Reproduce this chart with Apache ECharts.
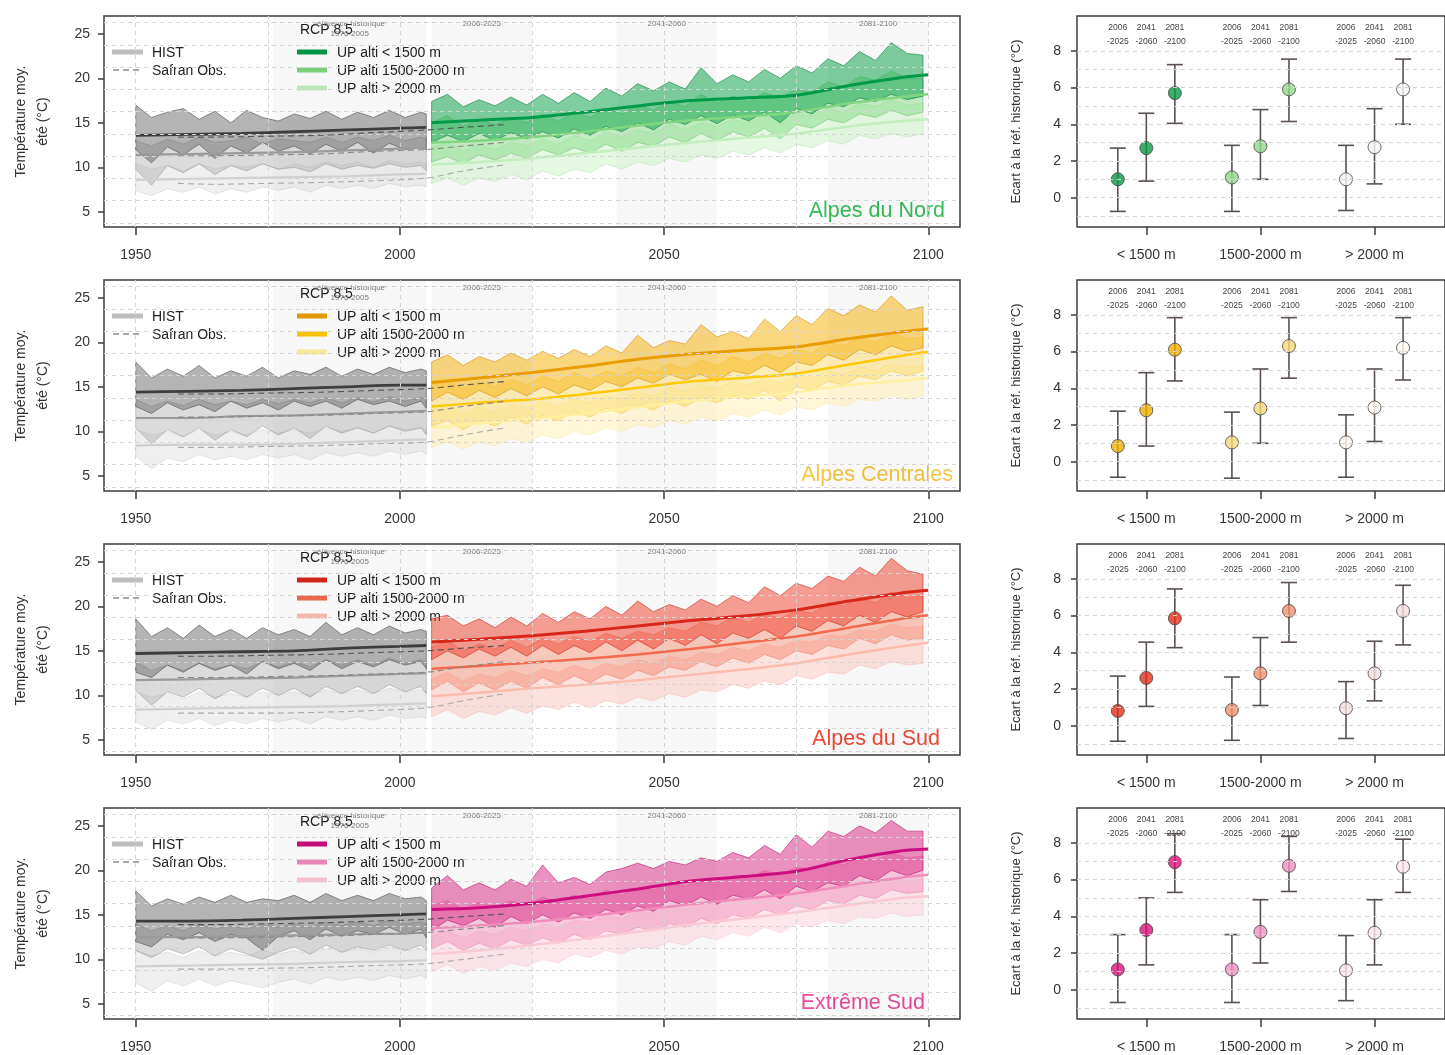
<!DOCTYPE html>
<html>
<head>
<meta charset="utf-8">
<title>Température moyenne été - Alpes</title>
<script src="https://cdn.jsdelivr.net/npm/echarts@6/dist/echarts.min.js"></script>
<style>
  html, body { margin: 0; padding: 0; background: #fff; overflow: hidden; }
  #chart { width: 1445px; height: 1055px; }
</style>
</head>
<body>
<div id="chart"></div>
<script>
// years
const histYears = [1950, 1953, 1956, 1959, 1962, 1965, 1968, 1971, 1974, 1977, 1980, 1983, 1986, 1989, 1992, 1995, 1998, 2001, 2004, 2005]
const rcpYears = [2006, 2009, 2012, 2015, 2018, 2021, 2024, 2027, 2030, 2033, 2036, 2039, 2042, 2045, 2048, 2051, 2054, 2057, 2060, 2063, 2066, 2069, 2072, 2075, 2078, 2081, 2084, 2087, 2090, 2093, 2096, 2099]
const histMedYears = [1950, 1960, 1970, 1980, 1990, 2000, 2005]
const rcpMedYears = [2006, 2015, 2025, 2035, 2045, 2055, 2065, 2075, 2085, 2095, 2100]
const safranYears = [1958, 1965, 1975, 1985, 1995, 2005, 2012, 2020]

// A = UP alti < 1500 m, B = 1500-2000 m, C = > 2000 m
// Alpes du Nord
const nordHistAHi = [17.0, 15.6, 16.2, 16.6, 15.4, 16.3, 15.0, 16.4, 15.6, 15.2, 16.0, 15.5, 16.3, 15.4, 16.2, 15.6, 16.4, 15.6, 16.2, 16.0]
const nordHistALo = [12.0, 10.5, 12.3, 11.4, 12.6, 11.0, 12.4, 11.6, 12.8, 11.8, 12.4, 11.5, 12.6, 11.8, 12.8, 11.6, 12.7, 12.0, 12.2, 12.0]
const nordHistAMed = [13.6, 13.7, 13.8, 14.0, 14.2, 14.4, 14.5]
const nordHistBHi = [13.0, 12.4, 13.2, 12.6, 13.4, 12.8, 13.0, 13.4, 12.6, 13.2, 13.0, 12.8, 13.4, 12.8, 13.4, 13.0, 13.6, 13.0, 13.4, 13.2]
const nordHistBLo = [9.8, 8.0, 10.2, 9.4, 10.4, 9.2, 10.2, 9.6, 10.4, 9.8, 10.0, 9.5, 10.4, 9.8, 10.2, 9.9, 10.4, 10.0, 10.2, 9.6]
const nordHistBMed = [11.4, 11.5, 11.6, 11.7, 11.9, 12.1, 12.2]
const nordHistCHi = [10.4, 9.8, 10.2, 9.6, 10.4, 9.8, 10.2, 10.0, 10.4, 9.8, 10.4, 10.0, 10.6, 10.2, 10.6, 10.0, 10.8, 10.4, 10.6, 10.4]
const nordHistCLo = [7.4, 6.8, 7.6, 7.2, 7.8, 7.0, 7.6, 7.2, 7.8, 7.4, 7.8, 7.2, 8.0, 7.6, 8.0, 7.6, 8.2, 7.8, 8.0, 7.8]
const nordHistCMed = [8.6, 8.7, 8.8, 8.9, 9.0, 9.2, 9.3]
const nordSafranA = [13.4, 13.4, 13.5, 13.6, 13.9, 14.2, 14.5, 14.8]
const nordSafranB = [11.3, 11.3, 11.4, 11.5, 11.8, 12.0, 12.4, 12.8]
const nordSafranC = [8.2, 8.1, 8.2, 8.3, 8.5, 8.8, 9.6, 10.3]
const nordRcpAHi = [17.4, 18.2, 16.8, 17.6, 16.9, 17.9, 17.0, 18.2, 17.2, 18.4, 17.4, 18.9, 18.0, 19.4, 18.6, 19.6, 18.8, 21.2, 19.4, 20.4, 19.6, 21.0, 20.0, 21.4, 20.6, 22.2, 21.4, 23.0, 22.0, 24.0, 22.8, 22.6]
const nordRcpALo = [12.8, 13.6, 12.9, 13.8, 13.0, 13.9, 13.2, 14.0, 13.3, 14.3, 13.6, 14.6, 14.0, 15.0, 14.2, 15.4, 14.8, 15.8, 14.9, 15.9, 15.2, 16.2, 15.0, 16.6, 16.0, 17.2, 16.8, 17.8, 17.4, 18.2, 17.6, 18.0]
const nordRcpAMed = [15.0, 15.3, 15.6, 16.2, 16.9, 17.5, 17.8, 18.1, 19.2, 20.1, 20.4]
const nordRcpBHi = [15.0, 15.8, 14.6, 15.4, 14.8, 15.6, 15.0, 16.0, 15.2, 16.2, 15.6, 16.6, 16.0, 17.0, 16.4, 17.4, 16.8, 18.2, 17.2, 18.0, 17.4, 18.4, 17.8, 18.8, 18.4, 19.6, 19.0, 20.2, 19.8, 20.8, 20.0, 20.0]
const nordRcpBLo = [10.6, 11.2, 10.4, 11.4, 10.8, 11.6, 11.0, 12.0, 11.4, 12.2, 11.6, 12.6, 11.8, 12.8, 12.4, 13.4, 12.8, 13.8, 13.0, 14.0, 13.4, 14.4, 13.2, 14.8, 14.4, 15.4, 15.0, 16.0, 15.6, 16.4, 15.8, 16.2]
const nordRcpBMed = [12.8, 13.0, 13.4, 14.0, 14.7, 15.3, 15.7, 16.2, 17.2, 17.9, 18.2]
const nordRcpCHi = [12.2, 12.8, 11.8, 12.6, 12.0, 12.8, 12.4, 13.2, 12.6, 13.6, 13.0, 14.0, 13.4, 14.2, 13.8, 14.8, 14.2, 15.0, 14.6, 15.4, 15.0, 15.8, 15.2, 16.0, 15.8, 16.6, 16.2, 17.2, 16.8, 17.6, 17.0, 17.2]
const nordRcpCLo = [8.2, 8.8, 8.0, 8.8, 8.4, 9.2, 8.6, 9.6, 9.0, 9.8, 9.4, 10.4, 9.8, 10.6, 10.2, 11.0, 10.6, 11.4, 11.0, 11.8, 11.4, 12.2, 11.6, 12.6, 12.2, 13.0, 12.6, 13.6, 13.2, 13.8, 13.4, 13.8]
const nordRcpCMed = [10.3, 10.6, 11.0, 11.6, 12.2, 12.8, 13.3, 13.8, 14.6, 15.2, 15.4]

// Alpes Centrales
const centHistAHi = [17.8, 16.0, 17.0, 16.2, 17.4, 16.0, 16.8, 16.2, 17.2, 16.0, 16.8, 16.4, 17.2, 16.2, 17.0, 16.4, 17.2, 16.6, 17.0, 16.8]
const centHistALo = [12.8, 12.0, 13.2, 12.4, 13.0, 12.2, 13.4, 12.6, 13.2, 12.4, 13.4, 12.8, 13.4, 12.6, 13.6, 13.0, 13.4, 12.8, 13.4, 12.6]
const centHistAMed = [14.4, 14.5, 14.6, 14.8, 15.0, 15.2, 15.2]
const centHistBHi = [13.6, 12.8, 13.4, 12.9, 13.6, 13.0, 13.4, 13.0, 13.6, 13.1, 13.6, 13.2, 13.8, 13.2, 13.8, 13.3, 13.9, 13.4, 13.8, 13.6]
const centHistBLo = [10.4, 8.6, 10.2, 9.4, 10.4, 9.0, 10.2, 9.4, 10.6, 9.6, 10.4, 9.2, 10.6, 9.8, 10.4, 9.8, 10.6, 10.0, 10.4, 9.6]
const centHistBMed = [11.5, 11.5, 11.7, 11.8, 12.0, 12.2, 12.3]
const centHistCHi = [10.2, 9.6, 10.0, 9.4, 10.2, 9.6, 10.0, 9.6, 10.2, 9.8, 10.2, 9.8, 10.4, 10.0, 10.4, 9.8, 10.6, 10.2, 10.4, 10.2]
const centHistCLo = [7.2, 5.8, 7.0, 6.6, 7.4, 6.8, 7.2, 6.8, 7.4, 7.0, 7.4, 6.8, 7.6, 7.2, 7.6, 7.2, 7.8, 7.4, 7.8, 7.4]
const centHistCMed = [8.4, 8.5, 8.5, 8.6, 8.8, 9.0, 9.1]
const centSafranA = [14.2, 14.2, 14.3, 14.4, 14.6, 14.8, 15.2, 15.6]
const centSafranB = [11.6, 11.6, 11.7, 11.8, 12.0, 12.2, 12.8, 13.4]
const centSafranC = [8.2, 8.2, 8.3, 8.4, 8.6, 8.8, 9.6, 10.4]
const centRcpAHi = [17.8, 18.6, 17.4, 18.4, 17.8, 18.8, 18.0, 19.0, 18.2, 19.2, 18.4, 19.6, 18.8, 20.8, 19.4, 20.2, 19.8, 22.0, 20.6, 21.2, 20.4, 22.6, 21.2, 23.0, 22.0, 23.8, 23.0, 24.2, 23.4, 25.2, 23.6, 24.0]
const centRcpALo = [13.4, 14.4, 13.6, 14.6, 13.8, 14.8, 14.0, 15.0, 14.2, 15.2, 14.6, 15.6, 15.0, 16.0, 15.4, 16.4, 15.8, 16.4, 15.6, 16.8, 16.4, 17.4, 16.6, 17.8, 17.4, 18.6, 18.0, 19.2, 18.6, 19.6, 19.0, 19.4]
const centRcpAMed = [15.5, 16.0, 16.6, 17.3, 18.1, 18.7, 19.1, 19.5, 20.4, 21.2, 21.5]
const centRcpBHi = [15.2, 15.8, 14.8, 15.6, 15.0, 15.8, 15.2, 16.2, 15.6, 16.6, 15.8, 16.8, 16.2, 17.2, 16.6, 17.6, 17.0, 18.0, 17.4, 18.4, 17.8, 18.8, 18.2, 19.2, 18.8, 20.0, 19.6, 20.6, 20.0, 21.0, 20.4, 20.6]
const centRcpBLo = [10.6, 11.2, 10.2, 11.2, 10.6, 11.6, 10.8, 11.8, 11.2, 12.2, 11.6, 12.6, 12.0, 13.0, 12.4, 13.4, 12.8, 13.8, 13.2, 14.0, 13.6, 14.6, 13.4, 15.0, 14.6, 15.6, 15.2, 16.2, 15.8, 16.8, 16.2, 16.8]
const centRcpBMed = [12.8, 13.2, 13.6, 14.2, 14.9, 15.6, 16.0, 16.5, 17.5, 18.5, 18.9]
const centRcpCHi = [12.4, 13.0, 12.0, 12.8, 12.2, 13.0, 12.6, 13.4, 12.8, 13.6, 13.2, 14.0, 13.6, 14.4, 14.0, 15.0, 14.4, 15.2, 14.8, 15.6, 15.2, 16.0, 15.4, 16.2, 16.0, 16.8, 16.4, 17.2, 16.8, 17.6, 17.2, 17.4]
const centRcpCLo = [8.2, 8.8, 8.0, 8.8, 8.4, 9.2, 8.8, 9.6, 9.2, 10.0, 9.6, 10.4, 10.0, 10.8, 10.4, 11.2, 10.8, 11.6, 11.2, 12.0, 11.6, 12.4, 11.8, 12.8, 12.4, 13.2, 12.8, 13.6, 13.4, 14.0, 13.6, 14.0]
const centRcpCMed = [10.4, 10.9, 11.4, 12.0, 12.7, 13.4, 13.9, 14.4, 15.2, 15.7, 16.0]

// Alpes du Sud
const sudHistAHi = [18.6, 16.6, 17.6, 16.4, 17.9, 16.6, 17.4, 16.4, 17.6, 16.8, 17.4, 16.6, 18.2, 16.8, 17.6, 16.8, 17.8, 17.0, 17.4, 17.2]
const sudHistALo = [12.6, 12.0, 13.4, 12.6, 13.6, 12.8, 13.4, 12.4, 13.8, 13.0, 13.6, 12.8, 14.0, 13.0, 13.8, 13.2, 14.0, 13.4, 13.8, 13.0]
const sudHistAMed = [14.7, 14.8, 14.9, 15.0, 15.3, 15.5, 15.6]
const sudHistBHi = [13.8, 12.8, 13.4, 12.8, 13.6, 13.0, 13.4, 13.0, 13.8, 13.2, 13.8, 13.2, 14.0, 13.4, 14.0, 13.4, 14.2, 13.6, 14.0, 13.8]
const sudHistBLo = [10.6, 8.9, 10.4, 9.8, 10.8, 9.6, 10.6, 9.8, 10.8, 10.0, 10.8, 9.8, 11.0, 10.2, 11.0, 10.2, 11.2, 10.4, 11.0, 10.2]
const sudHistBMed = [11.7, 11.8, 11.9, 12.0, 12.2, 12.4, 12.5]
const sudHistCHi = [10.4, 9.8, 10.2, 9.6, 10.4, 9.8, 10.2, 9.8, 10.4, 10.0, 10.4, 10.0, 10.6, 10.2, 10.6, 10.2, 10.8, 10.4, 10.6, 10.4]
const sudHistCLo = [7.0, 6.2, 7.2, 6.8, 7.4, 6.6, 7.2, 6.8, 7.4, 7.0, 7.4, 6.8, 7.6, 7.2, 7.6, 7.2, 7.8, 7.4, 7.6, 7.4]
const sudHistCMed = [8.4, 8.5, 8.6, 8.7, 8.8, 9.0, 9.1]
const sudSafranA = [14.4, 14.4, 14.5, 14.6, 14.8, 15.0, 15.3, 15.6]
const sudSafranB = [12.0, 12.0, 12.1, 12.2, 12.4, 12.6, 13.2, 13.8]
const sudSafranC = [8.0, 8.0, 8.0, 8.1, 8.3, 8.6, 9.4, 10.2]
const sudRcpAHi = [18.6, 19.0, 17.8, 18.6, 17.6, 18.8, 17.8, 19.2, 18.2, 19.4, 18.6, 20.0, 19.0, 20.6, 19.4, 20.2, 19.6, 20.8, 20.0, 21.2, 20.4, 22.2, 21.2, 22.6, 22.0, 23.4, 22.8, 24.4, 23.4, 25.4, 24.0, 23.6]
const sudRcpALo = [14.0, 15.0, 14.2, 15.2, 14.4, 15.4, 14.4, 15.6, 14.6, 15.6, 14.8, 16.0, 15.0, 16.2, 15.2, 16.4, 15.6, 16.8, 15.8, 17.0, 16.4, 17.4, 16.4, 17.8, 17.2, 18.4, 17.8, 19.0, 18.2, 19.4, 18.8, 19.4]
const sudRcpAMed = [16.0, 16.3, 16.7, 17.2, 17.8, 18.4, 18.9, 19.6, 20.6, 21.5, 21.8]
const sudRcpBHi = [15.4, 16.2, 15.0, 15.8, 15.2, 16.2, 15.4, 16.4, 15.8, 16.6, 16.0, 17.0, 16.4, 17.2, 16.8, 17.6, 17.2, 18.2, 17.8, 18.8, 18.2, 19.2, 18.6, 19.6, 19.2, 20.4, 20.0, 21.0, 20.4, 21.6, 21.0, 21.2]
const sudRcpBLo = [10.6, 11.6, 10.4, 11.4, 10.6, 11.6, 10.8, 12.0, 11.2, 12.2, 11.4, 12.4, 11.8, 12.8, 12.2, 13.2, 12.8, 13.8, 13.2, 14.2, 13.6, 14.6, 14.0, 15.0, 14.6, 15.6, 15.2, 16.4, 15.8, 16.8, 16.2, 16.4]
const sudRcpBMed = [13.0, 13.3, 13.7, 14.1, 14.6, 15.2, 15.9, 16.6, 17.6, 18.6, 19.0]
const sudRcpCHi = [11.8, 12.6, 11.6, 12.4, 12.0, 12.8, 12.2, 13.0, 12.6, 13.4, 12.8, 13.6, 13.2, 14.0, 13.6, 14.4, 14.0, 14.8, 14.6, 15.4, 15.0, 15.8, 15.4, 16.2, 16.0, 16.8, 16.6, 17.4, 17.2, 18.0, 17.6, 17.8]
const sudRcpCLo = [7.6, 8.4, 7.4, 8.2, 7.8, 8.6, 8.0, 8.8, 8.4, 9.2, 8.6, 9.4, 9.0, 9.8, 9.4, 10.2, 9.8, 10.6, 10.4, 11.2, 10.8, 11.6, 11.2, 12.2, 11.8, 12.6, 12.4, 13.4, 13.0, 13.8, 13.4, 13.6]
const sudRcpCMed = [9.9, 10.3, 10.8, 11.2, 11.7, 12.3, 12.9, 13.6, 14.6, 15.5, 15.9]

// Extrême Sud
const extHistAHi = [17.7, 16.0, 16.8, 16.2, 17.0, 16.4, 17.2, 16.4, 16.8, 16.6, 17.2, 16.4, 17.4, 16.6, 17.2, 16.6, 17.4, 16.8, 17.0, 16.6]
const extHistALo = [12.0, 11.4, 12.8, 12.2, 13.0, 12.0, 12.8, 12.4, 11.0, 12.6, 13.2, 12.2, 13.4, 12.6, 13.2, 12.8, 13.6, 12.8, 13.4, 12.4]
const extHistAMed = [14.3, 14.3, 14.4, 14.6, 14.8, 15.0, 15.1]
const extHistBHi = [14.0, 13.2, 13.8, 13.2, 14.0, 13.4, 13.8, 13.4, 14.0, 13.6, 14.0, 13.6, 14.2, 13.8, 14.2, 13.8, 14.4, 14.0, 14.2, 14.0]
const extHistBLo = [11.0, 10.2, 11.2, 10.6, 11.4, 10.4, 11.2, 10.6, 10.0, 10.8, 11.4, 10.6, 11.6, 10.8, 11.4, 11.0, 11.6, 11.0, 11.6, 11.0]
const extHistBMed = [12.5, 12.5, 12.6, 12.7, 12.8, 12.9, 13.0]
const extHistCHi = [11.0, 10.4, 10.8, 10.2, 11.0, 10.4, 10.8, 10.4, 11.0, 10.6, 11.0, 10.6, 11.2, 10.8, 11.2, 10.8, 11.4, 11.0, 11.2, 11.0]
const extHistCLo = [7.4, 6.4, 7.6, 7.0, 7.8, 7.0, 7.6, 7.2, 6.8, 7.4, 7.8, 7.2, 8.0, 7.6, 8.0, 7.6, 8.2, 7.8, 8.2, 7.8]
const extHistCMed = [9.2, 9.3, 9.4, 9.5, 9.7, 9.8, 9.9]
const extSafranA = [13.9, 13.9, 14.0, 14.1, 14.3, 14.5, 14.8, 15.1]
const extSafranB = [12.4, 12.4, 12.5, 12.6, 12.8, 13.0, 13.4, 13.8]
const extSafranC = [8.9, 8.9, 9.0, 9.1, 9.3, 9.5, 10.0, 10.6]
const extRcpAHi = [18.0, 19.4, 17.8, 18.6, 17.8, 19.0, 18.2, 20.6, 18.6, 19.2, 18.4, 19.8, 20.2, 20.8, 20.2, 21.0, 20.6, 21.4, 21.0, 22.0, 21.4, 22.8, 21.8, 24.0, 22.6, 24.4, 23.8, 25.0, 24.2, 25.6, 24.4, 24.4]
const extRcpALo = [13.2, 14.4, 13.8, 14.6, 13.6, 14.8, 14.0, 15.0, 14.2, 15.2, 14.6, 15.6, 15.0, 16.0, 15.4, 16.6, 16.0, 17.0, 16.2, 17.2, 16.8, 17.8, 16.8, 18.2, 17.6, 18.6, 18.2, 19.4, 18.8, 20.0, 19.4, 20.0]
const extRcpAMed = [15.6, 15.8, 16.3, 17.1, 17.9, 18.8, 19.3, 19.9, 21.2, 22.2, 22.4]
const extRcpBHi = [16.0, 16.6, 15.6, 16.4, 15.8, 16.6, 16.0, 17.0, 16.4, 17.2, 16.8, 17.8, 17.2, 18.0, 17.8, 18.6, 18.2, 19.0, 18.6, 19.4, 19.0, 20.0, 19.4, 20.4, 20.0, 21.0, 20.6, 21.6, 21.0, 22.0, 21.4, 21.6]
const extRcpBLo = [11.2, 12.0, 11.0, 11.8, 11.2, 12.2, 11.6, 12.4, 11.8, 12.8, 12.2, 13.2, 12.8, 13.6, 13.2, 14.0, 13.6, 14.6, 14.0, 15.0, 14.6, 15.6, 15.0, 16.0, 15.6, 16.6, 16.2, 17.2, 16.8, 17.8, 17.4, 17.6]
const extRcpBMed = [13.5, 13.8, 14.2, 14.8, 15.5, 16.2, 16.8, 17.4, 18.3, 19.2, 19.5]
const extRcpCHi = [12.6, 13.2, 12.4, 13.2, 12.8, 13.6, 13.2, 14.0, 13.6, 14.4, 14.2, 15.0, 14.6, 15.4, 15.2, 16.0, 15.6, 16.4, 16.2, 17.0, 16.6, 17.4, 17.0, 17.8, 17.6, 18.4, 18.0, 18.8, 18.6, 19.2, 18.8, 19.0]
const extRcpCLo = [8.6, 9.4, 8.4, 9.2, 8.8, 9.6, 9.2, 10.0, 9.6, 10.6, 10.2, 11.0, 10.6, 11.4, 11.2, 12.0, 11.6, 12.6, 12.2, 13.0, 12.6, 13.6, 13.0, 14.0, 13.6, 14.4, 14.0, 14.8, 14.6, 15.2, 14.8, 15.0]
const extRcpCMed = [10.6, 11.0, 11.6, 12.3, 13.1, 13.9, 14.6, 15.3, 16.1, 16.9, 17.1]

// écart à la référence historique : 3 groupes d'altitude x 3 périodes
const groupLabels = ['< 1500 m', '1500-2000 m', '> 2000 m']
const periodLabels = ['2006\n-2025', '2041\n-2060', '2081\n-2100']
const nordEcart = [1.0, 2.7, 5.7, 1.1, 2.8, 5.9, 1.0, 2.75, 5.9]
const nordEcartLo = [-0.75, 0.9, 4.05, -0.75, 1.0, 4.15, -0.7, 0.75, 4.0]
const nordEcartHi = [2.7, 4.6, 7.25, 2.85, 4.8, 7.55, 2.85, 4.85, 7.55]
const centEcart = [0.85, 2.8, 6.1, 1.05, 2.9, 6.3, 1.05, 2.95, 6.2]
const centEcartLo = [-0.85, 0.85, 4.4, -0.9, 1.0, 4.55, -0.85, 1.1, 4.45]
const centEcartHi = [2.75, 4.85, 7.85, 2.7, 5.05, 7.85, 2.55, 5.05, 7.85]
const sudEcart = [0.8, 2.6, 5.85, 0.85, 2.85, 6.25, 0.95, 2.85, 6.25]
const sudEcartLo = [-0.85, 1.05, 4.25, -0.8, 1.1, 4.55, -0.7, 1.35, 4.4]
const sudEcartHi = [2.7, 4.55, 7.45, 2.65, 4.8, 7.8, 2.4, 4.6, 7.65]
const extEcart = [1.1, 3.25, 6.95, 1.1, 3.15, 6.75, 1.05, 3.1, 6.7]
const extEcartLo = [-0.7, 1.35, 5.3, -0.7, 1.45, 5.35, -0.6, 1.35, 5.3]
const extEcartHi = [3.0, 5.0, 8.5, 3.0, 4.9, 8.35, 2.95, 4.9, 8.2]

const font = '"Liberation Sans", Arial, sans-serif'
const histStyle = [
  { fill: 'rgba(105,105,105,0.5)', stroke: 'rgba(70,70,70,0.8)', line: '#3d3d3d', width: 2.8 },
  { fill: 'rgba(165,165,165,0.4)', stroke: 'rgba(130,130,130,0.6)', line: '#9a9a9a', width: 2.2 },
  { fill: 'rgba(215,215,215,0.4)', stroke: 'rgba(190,190,190,0.5)', line: '#d0d0d0', width: 2.2 }
]
const safranColors = ['#555555', '#888888', '#aaaaaa']

const regions = [
  {
    name: 'Alpes du Nord', labelColor: '#34bd58', labelX: 945,
    hist: [[nordHistALo, nordHistAHi, nordHistAMed], [nordHistBLo, nordHistBHi, nordHistBMed], [nordHistCLo, nordHistCHi, nordHistCMed]],
    safran: [nordSafranA, nordSafranB, nordSafranC],
    rcp: [[nordRcpALo, nordRcpAHi, nordRcpAMed], [nordRcpBLo, nordRcpBHi, nordRcpBMed], [nordRcpCLo, nordRcpCHi, nordRcpCMed]],
    ecart: [nordEcart, nordEcartLo, nordEcartHi],
    style: [
      { fill: 'rgba(20,165,80,0.55)', stroke: 'rgba(0,120,55,0.8)', line: '#009a48', width: 3 },
      { fill: 'rgba(120,215,120,0.45)', stroke: 'rgba(80,180,80,0.6)', line: '#7fd67f', width: 2.5 },
      { fill: 'rgba(195,240,190,0.45)', stroke: 'rgba(170,225,165,0.6)', line: '#c3efbe', width: 2.5 }
    ],
    dots: ['#0a9a48', '#8ed88b', '#f3f8f3']
  },
  {
    name: 'Alpes Centrales', labelColor: '#f7c540', labelX: 953,
    hist: [[centHistALo, centHistAHi, centHistAMed], [centHistBLo, centHistBHi, centHistBMed], [centHistCLo, centHistCHi, centHistCMed]],
    safran: [centSafranA, centSafranB, centSafranC],
    rcp: [[centRcpALo, centRcpAHi, centRcpAMed], [centRcpBLo, centRcpBHi, centRcpBMed], [centRcpCLo, centRcpCHi, centRcpCMed]],
    ecart: [centEcart, centEcartLo, centEcartHi],
    style: [
      { fill: 'rgba(245,180,20,0.55)', stroke: 'rgba(210,140,0,0.8)', line: '#e89e00', width: 3 },
      { fill: 'rgba(250,215,90,0.45)', stroke: 'rgba(240,190,40,0.6)', line: '#ffc800', width: 2.5 },
      { fill: 'rgba(255,240,175,0.5)', stroke: 'rgba(250,225,140,0.6)', line: '#fff0a0', width: 2.5 }
    ],
    dots: ['#f2ae00', '#f8d977', '#fffaf0']
  },
  {
    name: 'Alpes du Sud', labelColor: '#f04a38', labelX: 940,
    hist: [[sudHistALo, sudHistAHi, sudHistAMed], [sudHistBLo, sudHistBHi, sudHistBMed], [sudHistCLo, sudHistCHi, sudHistCMed]],
    safran: [sudSafranA, sudSafranB, sudSafranC],
    rcp: [[sudRcpALo, sudRcpAHi, sudRcpAMed], [sudRcpBLo, sudRcpBHi, sudRcpBMed], [sudRcpCLo, sudRcpCHi, sudRcpCMed]],
    ecart: [sudEcart, sudEcartLo, sudEcartHi],
    style: [
      { fill: 'rgba(238,60,40,0.5)', stroke: 'rgba(200,30,20,0.8)', line: '#d8261a', width: 3 },
      { fill: 'rgba(245,130,105,0.45)', stroke: 'rgba(235,100,80,0.6)', line: '#f26a4e', width: 2.5 },
      { fill: 'rgba(252,195,185,0.5)', stroke: 'rgba(248,175,165,0.6)', line: '#fbbcae', width: 2.5 }
    ],
    dots: ['#e2301c', '#f3906f', '#f2dedd']
  },
  {
    name: 'Extrême Sud', labelColor: '#ec4c9e', labelX: 925,
    hist: [[extHistALo, extHistAHi, extHistAMed], [extHistBLo, extHistBHi, extHistBMed], [extHistCLo, extHistCHi, extHistCMed]],
    safran: [extSafranA, extSafranB, extSafranC],
    rcp: [[extRcpALo, extRcpAHi, extRcpAMed], [extRcpBLo, extRcpBHi, extRcpBMed], [extRcpCLo, extRcpCHi, extRcpCMed]],
    ecart: [extEcart, extEcartLo, extEcartHi],
    style: [
      { fill: 'rgba(215,35,130,0.5)', stroke: 'rgba(185,10,105,0.8)', line: '#cc0e7e', width: 3 },
      { fill: 'rgba(240,135,185,0.45)', stroke: 'rgba(230,110,165,0.6)', line: '#f08cbc', width: 2.5 },
      { fill: 'rgba(252,208,218,0.5)', stroke: 'rgba(248,190,205,0.6)', line: '#fbc9d4', width: 2.5 }
    ],
    dots: ['#dc127a', '#f090c2', '#fbe6ec']
  }
]

// position of each point on the right panels: group g, period p -> 4g + 3 + p
const slot = (g, p) => 4 * g + 3 + p
const slots = [0, 1, 2].flatMap(g => [0, 1, 2].map(p => slot(g, p)))

const pair = (xs, ys) => xs.map((x, i) => [x, ys[i]])

function band(xi, yi, years, lo, hi, st, z) {
  return {
    type: 'custom', xAxisIndex: xi, yAxisIndex: yi, z: z, silent: true, clip: true,
    data: years.map((y, i) => [y, lo[i], hi[i]]),
    encode: { x: 0, y: [1, 2] },
    renderItem: (params, api) => {
      if (params.dataIndex !== 0) return null
      const n = Math.min(years.length, lo.length, hi.length)
      const top = [], bot = []
      for (let i = 0; i < n; i++) {
        top.push(api.coord([years[i], hi[i]]))
        bot.push(api.coord([years[i], lo[i]]))
      }
      return {
        type: 'polygon',
        shape: { points: top.concat(bot.reverse()) },
        style: { fill: st.fill, stroke: st.stroke, lineWidth: 0.7 }
      }
    }
  }
}

function medLine(xi, yi, years, vals, color, width, z, dashed) {
  return {
    type: 'line', xAxisIndex: xi, yAxisIndex: yi, z: z, silent: true,
    data: pair(years, vals), smooth: 0.3, showSymbol: false, symbol: 'none',
    lineStyle: { color: color, width: width, type: dashed ? [6, 4] : 'solid' }
  }
}

const grid = [], xAxis = [], yAxis = [], series = [], graphic = []
const hGrid = [3.75, 6.25, 8.75, 11.25, 13.75, 16.25, 18.75, 21.25, 23.75, 26.25]
const vGrid = [1950, 1975, 2000, 2025, 2050, 2075, 2100]
const dashGrid = { type: [4, 4], color: '#d4d4d4', width: 1 }
const tickStyle = { length: 8, lineStyle: { color: '#3c3c3c', width: 1.5 } }
const labelStyle = { fontSize: 14, color: '#333', fontFamily: font, showMinLabel: false, showMaxLabel: false }

regions.forEach((reg, r) => {
  const T = 16 + 264 * r
  // grids: left 2r, right 2r+1 ; x axes: left 3r, right bottom 3r+1, right top 3r+2 ; y axes: left 2r, right 2r+1
  const gl = 2 * r, gr = 2 * r + 1
  const xl = 3 * r, xr = 3 * r + 1, xt = 3 * r + 2
  const yl = 2 * r, yr = 2 * r + 1

  grid.push({ left: 104, top: T, width: 856, height: 211, show: true, borderColor: '#3c3c3c', borderWidth: 1.5 })
  grid.push({ left: 1077, top: T, right: -4, height: 211, show: true, borderColor: '#3c3c3c', borderWidth: 1.5 })

  xAxis.push({
    gridIndex: gl, type: 'value', min: 1944, max: 2106, minInterval: 50, maxInterval: 50,
    axisLine: { show: false, onZero: false }, splitLine: { show: false }, axisTick: tickStyle,
    axisLabel: Object.assign({ margin: 21, formatter: v => String(v) }, labelStyle)
  })
  xAxis.push({
    gridIndex: gr, type: 'value', min: 1.57, max: 14.47, minInterval: 4, maxInterval: 4,
    axisLine: { show: false, onZero: false }, splitLine: { show: false }, axisTick: tickStyle,
    axisLabel: Object.assign({ margin: 21, formatter: v => groupLabels[Math.round(v) / 4 - 1] || '' }, labelStyle)
  })
  xAxis.push({
    gridIndex: gr, type: 'value', position: 'top', min: 1.57, max: 14.47, minInterval: 1, maxInterval: 1,
    axisLine: { show: false, onZero: false }, splitLine: { show: false }, axisTick: { show: false },
    axisLabel: {
      inside: true, margin: 5, fontSize: 8.5, lineHeight: 14, color: '#444', fontFamily: font,
      showMinLabel: false, showMaxLabel: false,
      formatter: v => {
        const k = Math.round(v) - 3
        return k < 0 || k % 4 === 3 ? '' : periodLabels[k % 4]
      }
    }
  })

  yAxis.push({
    gridIndex: gl, type: 'value', min: 3.3, max: 27, minInterval: 5, maxInterval: 5,
    name: 'Température moy.\nété (°C)', nameLocation: 'middle', nameGap: 50, nameRotate: 90,
    nameTextStyle: { fontSize: 14, color: '#333', fontFamily: font, lineHeight: 22 },
    axisLine: { show: false, onZero: false }, splitLine: { show: false },
    axisTick: { length: 6, lineStyle: tickStyle.lineStyle },
    axisLabel: Object.assign({ margin: 14 }, labelStyle)
  })
  yAxis.push({
    gridIndex: gr, type: 'value', min: -1.6, max: 9.9, minInterval: 2, maxInterval: 2,
    name: 'Ecart à la réf. historique (°C)', nameLocation: 'middle', nameGap: 54, nameRotate: 90,
    nameTextStyle: { fontSize: 13, color: '#333', fontFamily: font },
    axisLine: { show: false, onZero: false }, splitLine: { show: false },
    axisTick: { length: 6, lineStyle: tickStyle.lineStyle },
    axisLabel: Object.assign({ margin: 16 }, labelStyle)
  })

  // left panel: period shading, grid lines
  series.push({
    type: 'line', xAxisIndex: xl, yAxisIndex: yl, data: [], z: 0, silent: true,
    markArea: {
      silent: true,
      itemStyle: { color: 'rgba(0,0,0,0.03)' },
      label: { show: true, position: 'insideTop', distance: 3, fontSize: 8, lineHeight: 10, color: '#777', fontFamily: font },
      data: [
        [{ name: 'référence historique\n1976-2005', xAxis: 1976 }, { xAxis: 2005 }],
        [{ name: '2006-2025', xAxis: 2006 }, { xAxis: 2025 }],
        [{ name: '2041-2060', xAxis: 2041 }, { xAxis: 2060 }],
        [{ name: '2081-2100', xAxis: 2081 }, { xAxis: 2100 }]
      ]
    },
    markLine: {
      silent: true, symbol: ['none', 'none'], label: { show: false }, lineStyle: dashGrid,
      data: hGrid.map(v => ({ yAxis: v })).concat(vGrid.map(v => ({ xAxis: v })))
    }
  })

  // envelopes, light to dark
  for (let k = 2; k >= 0; k--) {
    series.push(band(xl, yl, histYears, reg.hist[k][0], reg.hist[k][1], histStyle[k], 2))
    series.push(band(xl, yl, rcpYears, reg.rcp[k][0], reg.rcp[k][1], reg.style[k], 2))
  }
  for (let k = 2; k >= 0; k--) {
    series.push(medLine(xl, yl, histMedYears, reg.hist[k][2], histStyle[k].line, histStyle[k].width, 4))
    series.push(medLine(xl, yl, rcpMedYears, reg.rcp[k][2], reg.style[k].line, reg.style[k].width, 4))
    series.push(medLine(xl, yl, safranYears, reg.safran[k], safranColors[k], 1.1, 5, true))
  }

  // right panel
  const [mid, lo, hi] = reg.ecart
  series.push({
    type: 'custom', xAxisIndex: xr, yAxisIndex: yr, z: 3, silent: true,
    data: slots.map((s, i) => [s, lo[i], hi[i]]),
    encode: { x: 0, y: [1, 2] },
    markLine: {
      silent: true, symbol: ['none', 'none'], label: { show: false }, lineStyle: dashGrid,
      data: [-1, 0, 1, 2, 3, 4, 5, 6, 7, 8].map(v => ({ yAxis: v }))
    },
    renderItem: (params, api) => {
      const x = api.value(0)
      const a = api.coord([x, api.value(1)])
      const b = api.coord([x, api.value(2)])
      const st = { stroke: '#5b5050', lineWidth: 1.6 }
      return {
        type: 'group', children: [
          { type: 'line', shape: { x1: a[0], y1: a[1], x2: b[0], y2: b[1] }, style: st },
          { type: 'line', shape: { x1: a[0] - 8, y1: a[1], x2: a[0] + 8, y2: a[1] }, style: st },
          { type: 'line', shape: { x1: b[0] - 8, y1: b[1], x2: b[0] + 8, y2: b[1] }, style: st }
        ]
      }
    }
  })
  series.push({
    type: 'scatter', xAxisIndex: xr, yAxisIndex: yr, z: 4, silent: true,
    data: pair(slots, mid), symbol: 'circle', symbolSize: 13,
    itemStyle: { color: p => reg.dots[Math.floor(p.dataIndex / 3)], borderColor: '#4a4444', borderWidth: 1 }
  })

  // legends and labels
  const txt = (x, y, text, size, color, align) => ({
    type: 'text', x: x, y: y, silent: true,
    style: { text: text, fontSize: size, fontFamily: font, fill: color, align: align || 'left', verticalAlign: 'middle' }
  })
  const seg = (x1, x2, y, color, width, dash) => ({
    type: 'line', silent: true, shape: { x1: x1, y1: y, x2: x2, y2: y },
    style: { stroke: color, lineWidth: width, lineDash: dash || null }
  })
  graphic.push(
    seg(112, 143, T + 36, '#bdbdbd', 5),
    txt(152, T + 37, 'HIST', 14, '#222'),
    seg(113, 143, T + 54, '#555', 1.1, [6, 4]),
    txt(152, T + 55, 'Safran Obs.', 14, '#222'),
    txt(300, T + 14, 'RCP 8.5', 14, '#222'),
    seg(297, 327, T + 36, reg.style[0].line, 5),
    txt(337, T + 37, 'UP alti < 1500 m', 14, '#222'),
    seg(297, 327, T + 54, reg.style[1].line, 5),
    txt(337, T + 55, 'UP alti 1500-2000 m', 14, '#222'),
    seg(297, 327, T + 72, reg.style[2].line, 5),
    txt(337, T + 73, 'UP alti > 2000 m', 14, '#222'),
    txt(reg.labelX, T + 195, reg.name, 21.5, reg.labelColor, 'right')
  )
})

const chart = echarts.init(document.getElementById('chart'))
chart.setOption({
  animation: false,
  backgroundColor: '#fff',
  textStyle: { fontFamily: font },
  grid: grid,
  xAxis: xAxis,
  yAxis: yAxis,
  series: series,
  graphic: graphic
})
</script>
</body>
</html>
